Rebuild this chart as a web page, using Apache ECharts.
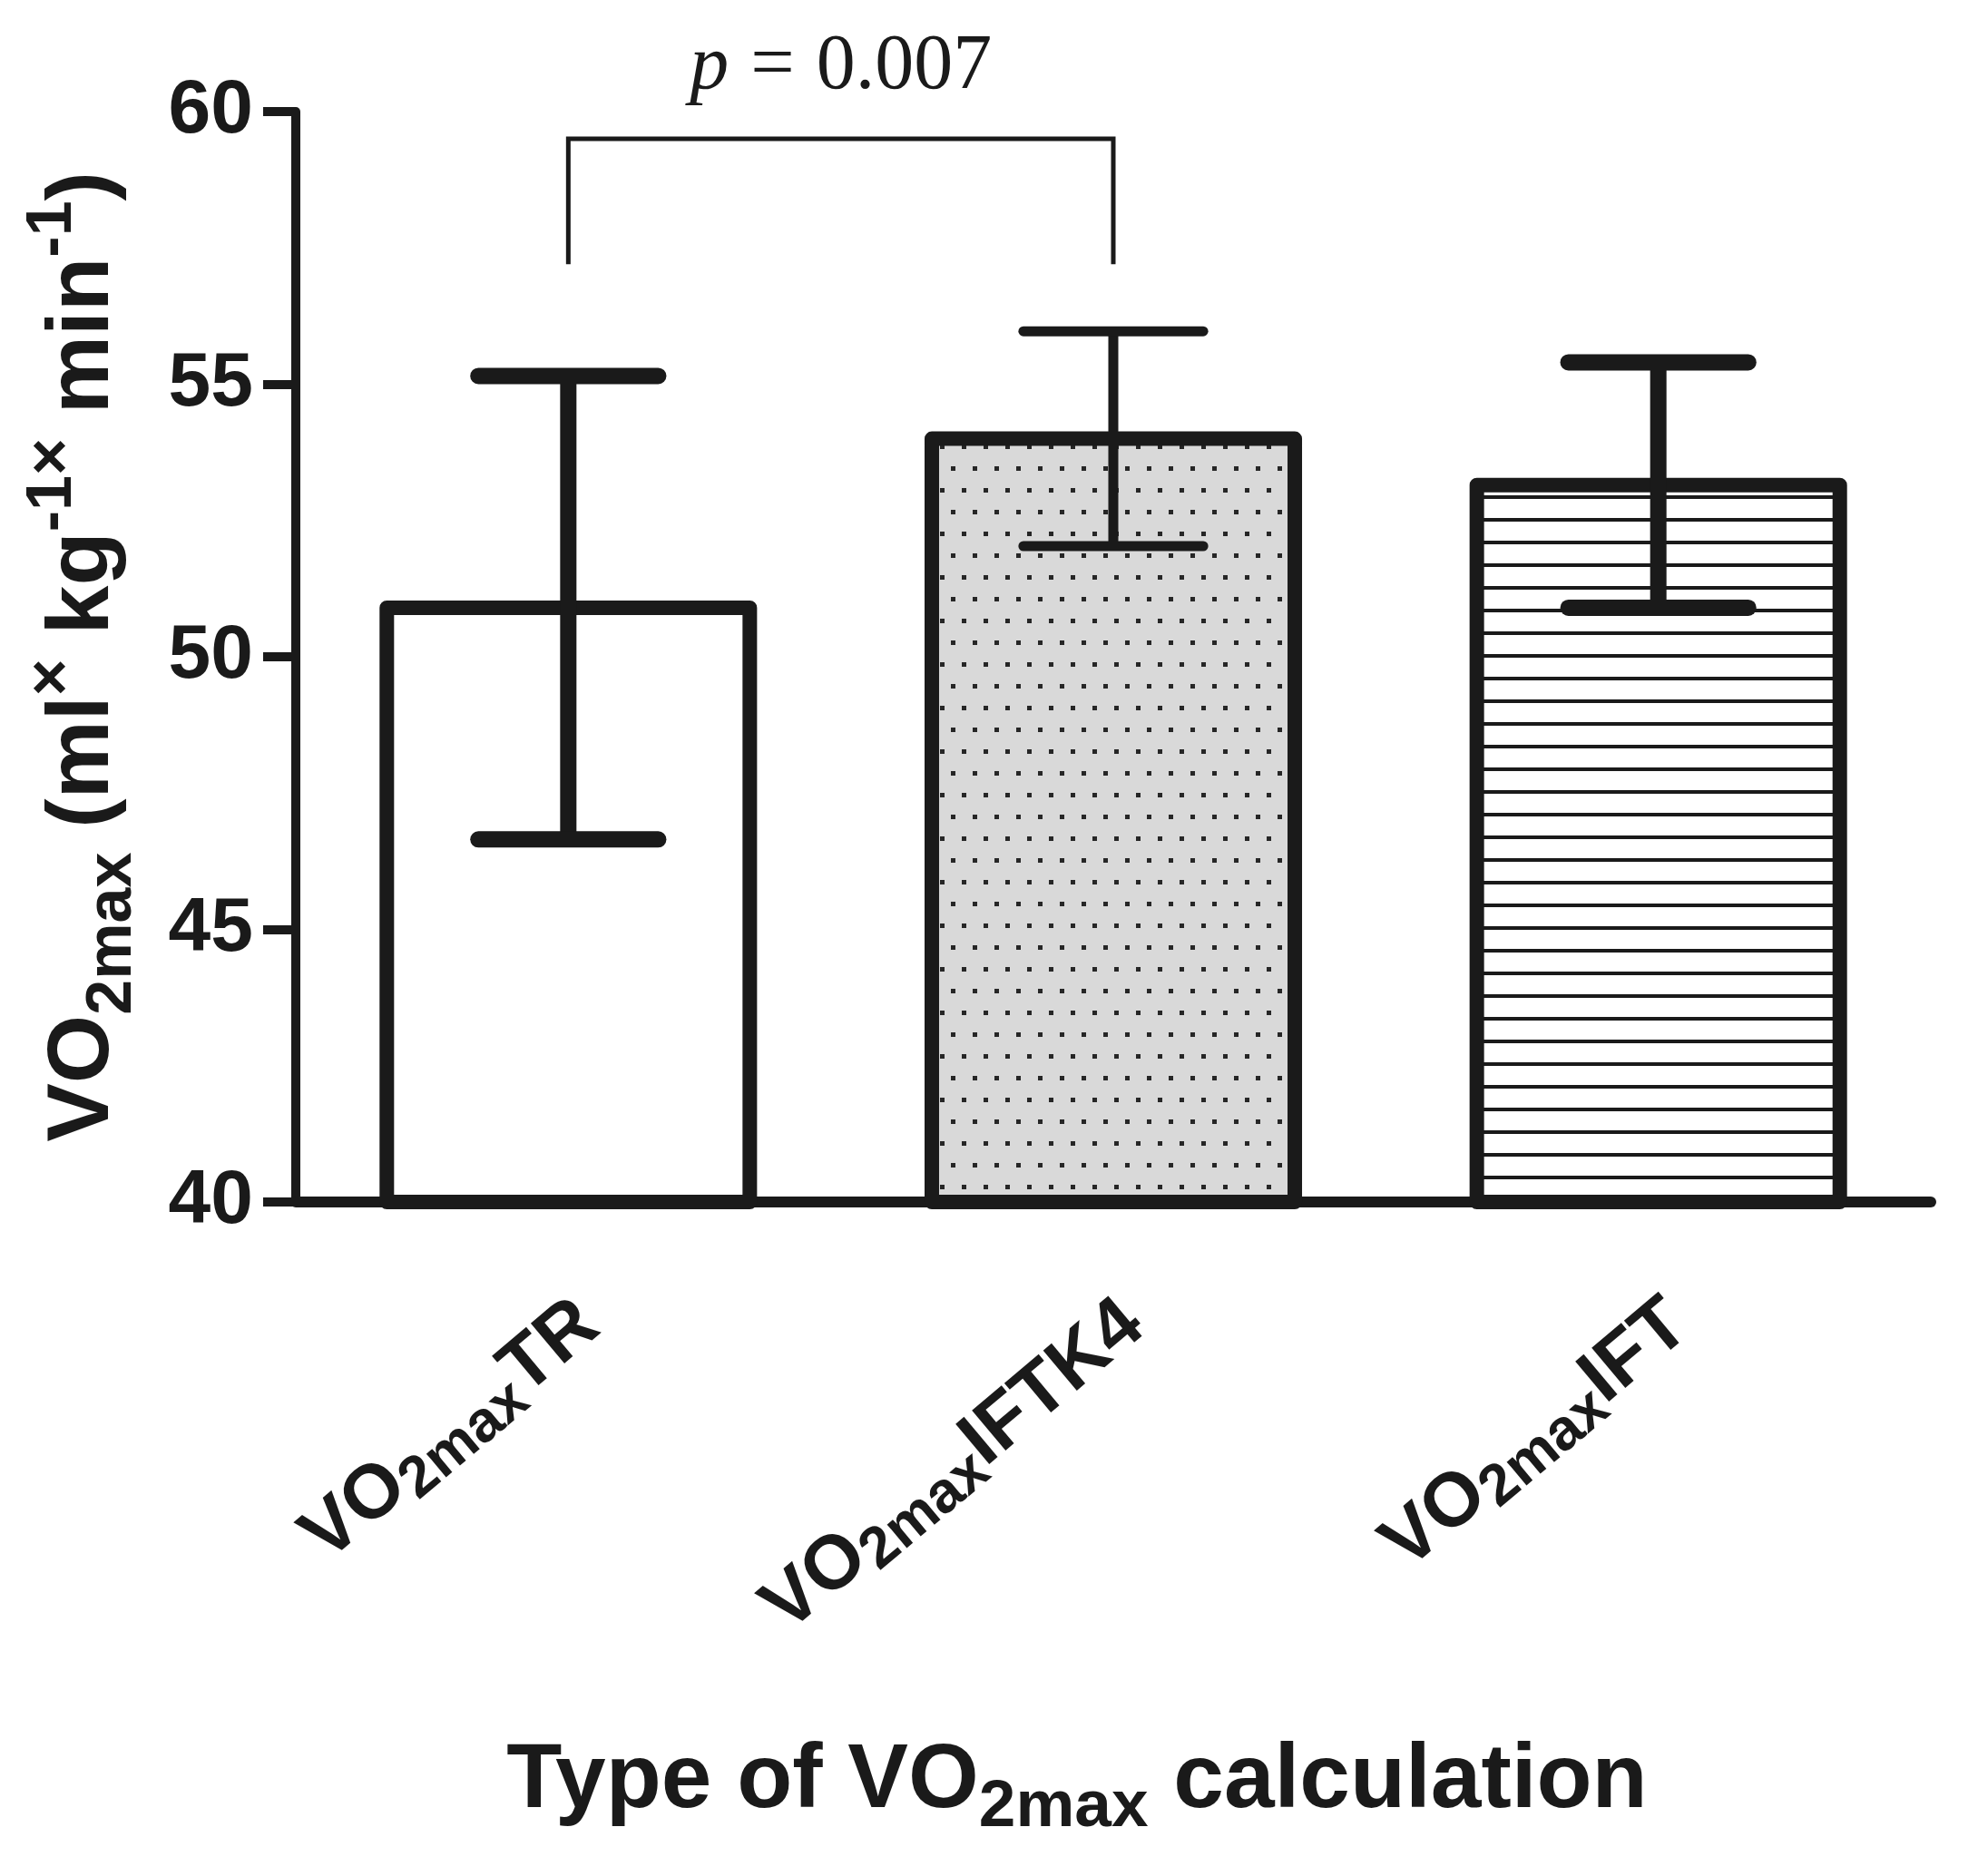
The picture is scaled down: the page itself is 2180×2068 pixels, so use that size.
<!DOCTYPE html>
<html><head><meta charset="utf-8">
<script src="https://cdn.jsdelivr.net/npm/echarts@6/dist/echarts.min.js"></script>
<style>html,body{margin:0;padding:0;background:#fff}#c{width:2180px;height:2068px}</style>
</head><body><div id="c"></div>
<script>
// ---- data ----
const categories = ['VO2maxTR', 'VO2maxIFTK4', 'VO2maxIFT'];
const means = [50.9, 54.0, 53.15];
const sds = [4.25, 1.97, 2.25];
const yTicks = [40, 45, 50, 55, 60];
const bracketPair = [0, 1];
const bracketLevels = [59.5, 57.2];
const pText = 'p = 0.007';

// ---- styles ----
const INK = '#1a1a1a';
const SANS = '"Liberation Sans", Arial, sans-serif';
const SERIF = '"Liberation Serif", "Times New Roman", serif';
const errWidths = [18, 11, 18];

function dotPattern() {
  const c = document.createElement('canvas'); c.width = 24; c.height = 48;
  const g = c.getContext('2d');
  g.fillStyle = '#d9d9d9'; g.fillRect(0, 0, 24, 48);
  g.fillStyle = '#262626';
  g.fillRect(4, 10, 5, 5); g.fillRect(16, 34, 5, 5);
  return c;
}
function hatchPattern() {
  const c = document.createElement('canvas'); c.width = 16; c.height = 25;
  const g = c.getContext('2d');
  g.fillStyle = '#ffffff'; g.fillRect(0, 0, 16, 25);
  g.fillStyle = INK; g.fillRect(0, 21, 16, 4);
  return c;
}
const fills = ['#ffffff', { image: dotPattern(), repeat: 'repeat' }, { image: hatchPattern(), repeat: 'repeat' }];

const chart = echarts.init(document.getElementById('c'), null, { renderer: 'canvas' });

const [pSym, eqSym, pNum] = pText.split(' ');
const yMin = yTicks[0];

const option = {
  animation: false,
  backgroundColor: '#ffffff',
  grid: { left: 326, right: 52, top: 123, bottom: 743, containLabel: false },
  xAxis: {
    type: 'category',
    data: categories,
    axisLine: { lineStyle: { color: INK, width: 12 } },
    axisTick: { alignWithLabel: true, length: 35, lineStyle: { color: INK, width: 9 } },
    axisLabel: {
      rotate: 40, margin: 144, interval: 0, color: INK,
      padding: [0, -30, 0, 0],
      fontFamily: SANS, fontWeight: 'bold', fontSize: 84,
      formatter: v => { const m = v.match(/^(VO)(2max)(.*)$/); return `{a|${m[1]}}{b|${m[2]}}{a|${m[3]}}`; },
      rich: {
        a: { fontFamily: SANS, fontWeight: 'bold', fontSize: 84, lineHeight: 100, verticalAlign: 'middle', color: INK },
        b: { fontFamily: SANS, fontWeight: 'bold', fontSize: 64, lineHeight: 46, verticalAlign: 'bottom', color: INK }
      }
    },
    name: 'Type of VO2max calculation',
    nameLocation: 'middle',
    nameGap: 574,
    nameTextStyle: {
      padding: [0, 80, 0, 0],
      rich: {
        a: { fontFamily: SANS, fontWeight: 'bold', fontSize: 100, lineHeight: 130, verticalAlign: 'middle', color: INK },
        b: { fontFamily: SANS, fontWeight: 'bold', fontSize: 73, lineHeight: 66, verticalAlign: 'bottom', color: INK }
      }
    }
  },
  yAxis: {
    type: 'value',
    min: yTicks[0], max: yTicks[yTicks.length - 1], interval: yTicks[1] - yTicks[0],
    splitLine: { show: false },
    axisLine: { show: true, lineStyle: { color: INK, width: 10 } },
    axisTick: { show: true, length: 36, lineStyle: { color: INK, width: 10 } },
    axisLabel: { margin: 47, color: INK, fontFamily: SANS, fontWeight: 'bold', fontSize: 84 },
    name: 'VO2max (ml× kg-1× min-1)',
    nameLocation: 'middle',
    nameRotate: 90,
    nameGap: 166,
    nameTextStyle: {
      rich: {
        a: { fontFamily: SANS, fontWeight: 'bold', fontSize: 97, lineHeight: 136, verticalAlign: 'middle', color: INK },
        b: { fontFamily: SANS, fontWeight: 'bold', fontSize: 70, lineHeight: 78, verticalAlign: 'bottom', color: INK },
        c: { fontFamily: SANS, fontWeight: 'bold', fontSize: 70, lineHeight: 64, verticalAlign: 'top', color: INK }
      }
    }
  },
  series: [
    {
      type: 'custom',
      z: 2,
      data: means.map((m, i) => [i, m]),
      encode: { x: 0, y: 1 },
      renderItem(params, api) {
        const i = api.value(0), m = api.value(1);
        const base = api.coord([i, yMin]);
        const top = api.coord([i, m]);
        const bw = api.size([1, 0])[0] * 0.666;
        return {
          type: 'rect',
          shape: { x: top[0] - bw / 2, y: top[1], width: bw, height: base[1] - top[1] },
          style: { fill: fills[params.dataIndex], stroke: INK, lineWidth: 16, lineJoin: 'round' }
        };
      }
    },
    {
      type: 'custom',
      z: 5,
      data: means.map((m, i) => [i, m, sds[i]]),
      encode: { x: 0, y: 1 },
      renderItem(params, api) {
        const i = api.value(0), m = api.value(1), s = api.value(2);
        const top = api.coord([i, m + s]);
        const bot = api.coord([i, m - s]);
        const w = errWidths[params.dataIndex];
        const half = api.size([1, 0])[0] * 0.165;
        const cap = { stroke: INK, lineWidth: w, lineCap: 'round' };
        return {
          type: 'group',
          children: [
            { type: 'line', shape: { x1: top[0], y1: top[1], x2: bot[0], y2: bot[1] }, style: { stroke: INK, lineWidth: w } },
            { type: 'line', shape: { x1: top[0] - half, y1: top[1], x2: top[0] + half, y2: top[1] }, style: cap },
            { type: 'line', shape: { x1: bot[0] - half, y1: bot[1], x2: bot[0] + half, y2: bot[1] }, style: cap }
          ]
        };
      }
    },
    {
      type: 'custom',
      z: 6,
      data: [[bracketPair[0], bracketPair[1], bracketLevels[0], bracketLevels[1]]],
      encode: { x: [0, 1], y: [2, 3] },
      renderItem(params, api) {
        const a = api.coord([api.value(0), api.value(2)]);
        const b = api.coord([api.value(1), api.value(2)]);
        const aL = api.coord([api.value(0), api.value(3)]);
        const bL = api.coord([api.value(1), api.value(3)]);
        const richBase = { fontFamily: SERIF, fontSize: 86, fill: INK, color: INK };
        return {
          type: 'group',
          children: [
            { type: 'polyline', shape: { points: [aL, a, b, bL] }, style: { stroke: INK, lineWidth: 5, fill: null, lineJoin: 'miter' } },
            {
              type: 'text',
              style: {
                x: (a[0] + b[0]) / 2, y: a[1] - 79,
                text: `{i|${pSym}}{e|${eqSym}}{n|${pNum}}`,
                align: 'center', verticalAlign: 'middle', textAlign: 'center', textVerticalAlign: 'middle',
                fill: INK, font: '86px ' + SERIF,
                rich: {
                  i: Object.assign({ fontStyle: 'italic' }, richBase),
                  e: Object.assign({ padding: [0, 24, 0, 24] }, richBase),
                  n: Object.assign({}, richBase)
                }
              }
            }
          ]
        };
      }
    }
  ]
};

// rich-format axis names from their plain text
option.xAxis.name = (() => { const t = option.xAxis.name; const m = t.match(/^(.*VO)(2max)(.*)$/); return `{a|${m[1]}}{b|${m[2]}}{a|${m[3]}}`; })();
option.yAxis.name = '{a|VO}{b|2max}{a| (ml}{c|×}{a| kg}{c|-1×}{a| min}{c|-1}{a|)}';

chart.setOption(option);
</script>
</body></html>
